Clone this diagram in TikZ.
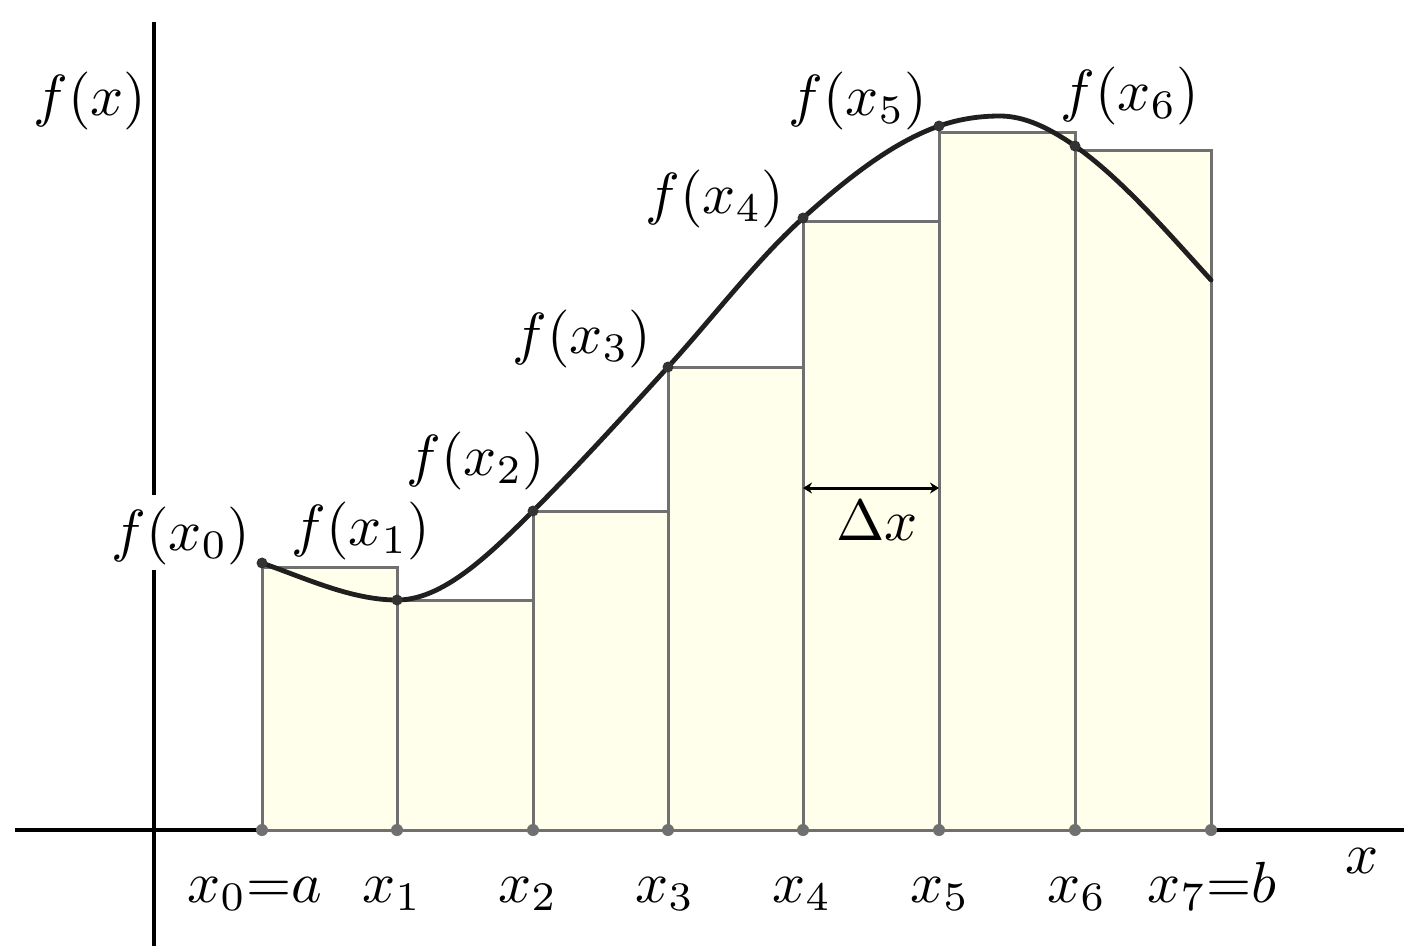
\documentclass[tikz,border=0pt]{standalone}
\usetikzlibrary{arrows.meta}
\definecolor{cream}{RGB}{255,255,236}
\definecolor{edgegray}{RGB}{112,112,112}
\begin{document}
\begin{tikzpicture}[x=1pt,y=-1pt,
  lbl/.style={inner sep=0pt, scale=5.8, anchor=base},
  rectbox/.style={draw=edgegray, line width=3pt, fill=cream},
  axisline/.style={line width=4.5pt, draw=black},
  curveline/.style={line width=4.8pt, draw=black!88, line cap=round},
  tickdot/.style={circle, fill=edgegray, minimum size=12pt, inner sep=0pt},
  ptdot/.style={circle, fill=black!80, minimum size=11pt, inner sep=0pt},
  dxarrow/.style={line width=3pt, {Stealth[length=9pt,width=11pt]}-{Stealth[length=9pt,width=11pt]}}]
\useasboundingbox (0,0) rectangle (1404,946);
\fill[white] (0,0) rectangle (1404,946);
% axes
\coordinate (xl) at (15,830);
\coordinate (xr) at (1404,830);
\coordinate (yt) at (154,22);
\coordinate (ga) at (154,495);
\coordinate (gb) at (154,570);
\coordinate (yb) at (154,946);
\draw[axisline] (xl) -- (xr);
\draw[axisline] (yt) -- (ga);
\draw[axisline] (gb) -- (yb);
% ticks
\foreach \i/\x in {0/262,1/397,2/533,3/668,4/803,5/939,6/1075,7/1211}
  \coordinate (t\i) at (\x,830);
% rectangles
\draw[rectbox] (t0) rectangle (397,567);
\draw[rectbox] (t1) rectangle (533,600);
\draw[rectbox] (t2) rectangle (668,511);
\draw[rectbox] (t3) rectangle (803,367);
\draw[rectbox] (t4) rectangle (939,221);
\draw[rectbox] (t5) rectangle (1075,132);
\draw[rectbox] (t6) rectangle (1211,150);
% curve points
\coordinate (p0) at (262,563);
\coordinate (p1) at (397,600);
\coordinate (p2) at (533,511);
\coordinate (p3) at (668,367);
\coordinate (p4) at (803,218);
\coordinate (p5) at (939,126);
\coordinate (pk) at (1000,116);
\coordinate (p6) at (1075,146);
\coordinate (p7) at (1211,280);
\draw[curveline] (p0)
  .. controls (307,578.8) and (352,600) .. (p1)
  .. controls (442.3,600) and (487.7,556.3) .. (p2)
  .. controls (578,466) and (623,416.5) .. (p3)
  .. controls (713,317.5) and (758,258.5) .. (p4)
  .. controls (848.3,177.2) and (893.7,141.9) .. (p5)
  .. controls (959.3,118.9) and (979.7,116) .. (pk)
  .. controls (1025,116) and (1050,128.5) .. (p6)
  .. controls (1120.3,177.7) and (1165.7,230.2) .. (p7);
\foreach \i in {0,...,6} \node[ptdot] (d\i) at (p\i) {};
\foreach \i in {0,...,7} \node[tickdot] (k\i) at (t\i) {};
% delta x
\coordinate (dl) at (803,488);
\coordinate (dr) at (939,488);
\draw[dxarrow] (dl) -- (dr);
\node[lbl] (ldx) at (877,540) {$\Delta x$};
% labels
\node[lbl] (lfx) at (90,115) {$f(x)$};
\node[lbl] (lf0) at (181,550) {$f(x_0)$};
\node[lbl] (lf1) at (361,545) {$f(x_1)$};
\node[lbl] (lf2) at (476,475) {$f(x_2)$};
\node[lbl] (lf3) at (582,353) {$f(x_3)$};
\node[lbl] (lf4) at (715,213) {$f(x_4)$};
\node[lbl] (lf5) at (858,115) {$f(x_5)$};
\node[lbl] (lf6) at (1130,110) {$f(x_6)$};
\node[lbl] (lx) at (1362,873) {$x$};
\node[lbl] (b0) at (255,902) {$x_0{=}a$};
\node[lbl] (b1) at (392,902) {$x_1$};
\node[lbl] (b2) at (528,902) {$x_2$};
\node[lbl] (b3) at (665,902) {$x_3$};
\node[lbl] (b4) at (802,902) {$x_4$};
\node[lbl] (b5) at (940,902) {$x_5$};
\node[lbl] (b6) at (1077,902) {$x_6$};
\node[lbl] (b7) at (1212,902) {$x_7{=}b$};
\end{tikzpicture}
\end{document}
